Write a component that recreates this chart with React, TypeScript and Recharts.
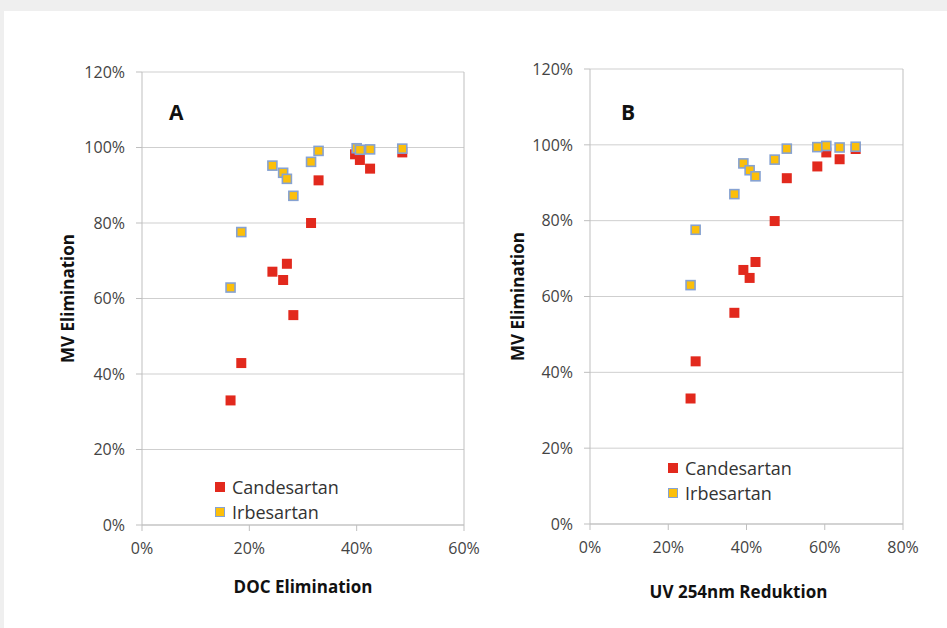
import { ScatterChart, Scatter, XAxis, YAxis, CartesianGrid, ReferenceLine, Legend } from 'recharts';

// Panel A: DOC elimination (%) vs MV elimination (%)
const docCandX = [16.5, 18.5, 28.2, 24.3, 26.3, 27.0, 31.5, 32.9, 39.7, 40.6, 42.5, 48.5];
const docCandY = [33.0, 42.9, 55.6, 67.1, 64.9, 69.2, 80.0, 91.3, 98.2, 96.7, 94.4, 98.7];
const docIrbX = [16.5, 18.5, 24.3, 26.3, 27.0, 28.2, 31.5, 32.9, 40.0, 40.6, 42.5, 48.5];
const docIrbY = [62.9, 77.6, 95.2, 93.3, 91.7, 87.2, 96.2, 99.1, 99.8, 99.4, 99.5, 99.7];

// Panel B: UV 254nm reduction (%) vs MV elimination (%)
const uvCandX = [25.7, 27.0, 36.9, 39.2, 40.8, 42.3, 47.2, 50.3, 58.1, 60.4, 63.8, 67.9];
const uvCandY = [33.1, 42.9, 55.7, 67.0, 64.9, 69.1, 79.9, 91.2, 94.3, 98.0, 96.2, 98.9];
const uvIrbX = [25.7, 27.0, 36.9, 39.2, 40.8, 42.3, 47.2, 50.3, 58.1, 60.4, 63.8, 67.9];
const uvIrbY = [63.0, 77.6, 87.0, 95.1, 93.3, 91.7, 96.1, 99.0, 99.4, 99.7, 99.3, 99.5];

const yTicks = [0, 20, 40, 60, 80, 100, 120];
const docTicks = [0, 20, 40, 60];
const uvTicks = [0, 20, 40, 60, 80];

const toPoints = (xs: number[], ys: number[]) => xs.map((x, i) => ({ x, y: ys[i] }));

const FONT = '"Open Sans", sans-serif';
const RED = '#e2291d';
const GOLD = '#fcbf0a';
const GOLD_EDGE = '#86a2d2';
const GRID = '#cfcfcf';
const TICK = { fill: '#444', fontSize: 16, fontFamily: FONT };

const RedSquare = (p: any) => (
  <rect x={p.cx - 5} y={p.cy - 5} width={10} height={10} fill={RED} />
);
const GoldSquare = (p: any) => (
  <rect x={p.cx - 4.5} y={p.cy - 4.5} width={9} height={9} fill={GOLD} stroke={GOLD_EDGE} strokeWidth={1.6} />
);

const LegendBox = () => (
  <div style={{ fontFamily: FONT, fontSize: 18, color: '#333' }}>
    {[
      { name: 'Candesartan', color: RED, edge: 'none' },
      { name: 'Irbesartan', color: GOLD, edge: `1.5px solid ${GOLD_EDGE}` },
    ].map((it) => (
      <div key={it.name} style={{ display: 'flex', alignItems: 'center', height: 25 }}>
        <span style={{ width: 10, height: 10, background: it.color, border: it.edge, boxSizing: 'border-box', marginRight: 7 }} />
        <span>{it.name}</span>
      </div>
    ))}
  </div>
);

interface PanelProps {
  margin: { top: number; right: number; bottom: number; left: number };
  xMax: number;
  xTicks: number[];
  xTitle: string;
  xTitleOffset: number;
  xTitleDx: number;
  yTitleOffset: number;
  cand: { x: number; y: number }[];
  irb: { x: number; y: number }[];
  legendPos: { left: number; top: number };
}

const Panel = ({ margin, xMax, xTicks, xTitle, xTitleOffset, xTitleDx, yTitleOffset, cand, irb, legendPos }: PanelProps) => (
  <div style={{ position: 'absolute', left: 0, top: 0 }}>
    <ScatterChart width={947} height={628} margin={margin}>
      <CartesianGrid horizontal vertical={false} stroke={GRID} />
      <XAxis
        type="number"
        dataKey="x"
        domain={[0, xMax]}
        ticks={xTicks}
        tickFormatter={(v) => `${v}%`}
        stroke="#bfbfbf"
        tickSize={6}
        tickMargin={12}
        height={80}
        tick={TICK}
        label={{
          value: xTitle,
          position: 'insideBottom',
          offset: xTitleOffset,
          dx: xTitleDx,
          style: { fontFamily: FONT, fontSize: 17, fontWeight: 700, fill: '#111' },
        }}
      />
      <YAxis
        type="number"
        dataKey="y"
        domain={[0, 120]}
        ticks={yTicks}
        tickFormatter={(v) => `${v}%`}
        stroke="#bfbfbf"
        tickSize={6}
        tickMargin={11}
        width={80}
        tick={TICK}
        label={{
          value: 'MV Elimination',
          angle: -90,
          position: 'insideLeft',
          offset: yTitleOffset,
          style: { textAnchor: 'middle', fontFamily: FONT, fontSize: 17, fontWeight: 700, fill: '#111' },
        }}
      />
      <ReferenceLine x={xMax} stroke="#bfbfbf" />
      <Scatter name="Candesartan" data={cand} shape={RedSquare} isAnimationActive={false} />
      <Scatter name="Irbesartan" data={irb} shape={GoldSquare} isAnimationActive={false} />
      <Legend
        layout="vertical"
        align="center"
        verticalAlign="middle"
        content={LegendBox}
        wrapperStyle={{ left: legendPos.left, top: legendPos.top, width: 'auto' }}
      />
    </ScatterChart>
  </div>
);

export default function App() {
  return (
    <div style={{ position: 'relative', width: 947, height: 628, background: '#efefef', overflow: 'hidden' }}>
      <style>{'body{margin:0}'}</style>
      <div style={{ position: 'absolute', left: 4, top: 11, right: 0, bottom: 0, background: '#fff' }} />
      <Panel
        margin={{ top: 72, right: 483, bottom: 23, left: 62 }}
        xMax={60}
        xTicks={docTicks}
        xTitle="DOC Elimination"
        xTitleOffset={12}
        xTitleDx={0}
        yTitleOffset={6}
        cand={toPoints(docCandX, docCandY)}
        irb={toPoints(docIrbX, docIrbY)}
        legendPos={{ left: 215, top: 474 }}
      />
      <Panel
        margin={{ top: 69, right: 44, bottom: 24, left: 510 }}
        xMax={80}
        xTicks={uvTicks}
        xTitle="UV 254nm Reduktion"
        xTitleOffset={6}
        xTitleDx={-8}
        yTitleOffset={8}
        cand={toPoints(uvCandX, uvCandY)}
        irb={toPoints(uvIrbX, uvIrbY)}
        legendPos={{ left: 668, top: 455 }}
      />
      <svg width={947} height={628} style={{ position: 'absolute', left: 0, top: 0, pointerEvents: 'none' }}>
        <text x={169} y={120} fontFamily={FONT} fontSize={21} fontWeight={700} fill="#111">A</text>
        <text x={621} y={120} fontFamily={FONT} fontSize={21} fontWeight={700} fill="#111">B</text>
      </svg>
    </div>
  );
}
